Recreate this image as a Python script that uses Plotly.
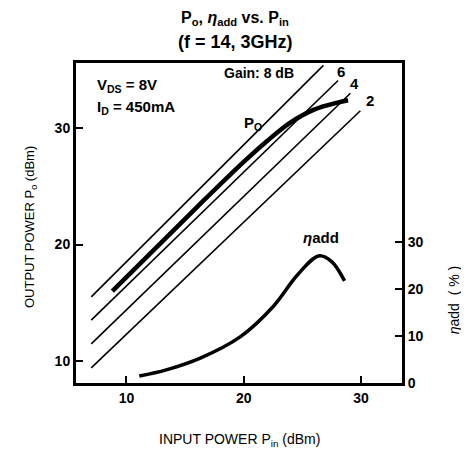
import plotly.graph_objects as go

# Constant-gain reference lines (endpoints)
gain_names = ["8 dB", "6 dB", "4 dB", "2 dB"]
gain_pin = [[7.0, 26.8], [7.0, 28.05], [7.0, 29.1], [7.0, 29.95]]
gain_pout = [[15.5, 35.4], [13.5, 34.1], [11.46, 33.0], [9.4, 31.5]]

# Output power curve
po_pin = [8.8, 12.0, 16.0, 20.0, 22.0, 24.0, 26.0, 28.0, 28.9]
po_pout = [16.0, 19.2, 23.2, 27.1, 28.9, 30.5, 31.6, 32.2, 32.4]

# Power-added efficiency curve
eta_pin = [11.1, 13.4, 16.3, 19.7, 22.5, 24.6, 26.4, 27.5, 28.6]
eta_val = [1.5, 2.8, 5.3, 9.8, 16.2, 23.0, 27.0, 25.8, 21.7]

x_ticks = [10, 20, 30]
y_ticks = [10, 20, 30]
y2_ticks = [0, 10, 20, 30]

FONT = "Liberation Sans, Arial, sans-serif"

fig = go.Figure()
for name, xs, ys in zip(gain_names, gain_pin, gain_pout):
    fig.add_trace(go.Scatter(x=xs, y=ys, mode="lines", name=name,
                             line=dict(color="black", width=1.6), showlegend=False))
fig.add_trace(go.Scatter(x=po_pin, y=po_pout, mode="lines", name="Po",
                         line=dict(color="black", width=4.5, shape="spline"), showlegend=False))
fig.add_trace(go.Scatter(x=eta_pin, y=eta_val, mode="lines", name="eta", yaxis="y2",
                         line=dict(color="black", width=3.5, shape="spline"), showlegend=False))

ann = []
def A(text, x, y, size=13, xref="x", yref="y", xanchor="center", angle=0, bold=True):
    ann.append(dict(text=f"<b>{text}</b>" if bold else text, x=x, y=y, xref=xref, yref=yref,
                    showarrow=False, xanchor=xanchor, yanchor="middle", textangle=angle,
                    font=dict(family=FONT, size=size, color="black")))

A("P<sub>o</sub>, <i>η</i><sub>add</sub> vs. P<sub>in</sub>", 0.488, 1.138, 16, "paper", "paper")
A("(f = 14, 3GHz)", 0.488, 1.066, 18, "paper", "paper")
A("V<sub>DS</sub> = 8V", 7.3, 33.7, 15, xanchor="left")
A("I<sub>D</sub> = 450mA", 7.3, 31.8, 15, xanchor="left")
A("Gain: 8 dB", 21.33, 34.74, 14)
A("6", 28.27, 34.9, 15)
A("4", 29.46, 33.8, 15)
A("2", 30.74, 32.4, 15)
A("P<sub>O</sub>", 20.77, 30.36, 15)
A("<i>η</i>add", 26.56, 20.57, 15)
A("OUTPUT POWER P<sub>o</sub> (dBm)", -0.141, 0.4875, 13, "paper", "paper", angle=-90, bold=False)
A("<i>η</i>add  ( % )", 1.16, 0.259, 14, "paper", "paper", angle=-90, bold=False)
A("INPUT POWER P<sub>in</sub> (dBm)", 0.503, -0.178, 14, "paper", "paper", bold=False)

axis_common = dict(showgrid=False, zeroline=False, showline=True, linecolor="black",
                   linewidth=3, ticks="inside", tickcolor="black", tickwidth=2, ticklen=7,
                   tickfont=dict(family=FONT, size=14, color="black"))

fig.update_layout(
    width=461, height=451,
    margin=dict(l=68, r=67, t=55, b=76),
    paper_bgcolor="white", plot_bgcolor="white",
    xaxis=dict(range=[5.7, 33.5], tickvals=x_ticks, ticktext=[f"<b>{v}</b>" for v in x_ticks],
               mirror=True, **axis_common),
    yaxis=dict(range=[8.1, 35.6], tickvals=y_ticks, ticktext=[f"<b>{v}</b>" for v in y_ticks],
               **axis_common),
    yaxis2=dict(range=[0, 68], tickvals=y2_ticks, ticktext=[f"<b>{v}</b>" for v in y2_ticks],
                overlaying="y", side="right", **axis_common),
    annotations=ann,
)

fig.write_html("out.html")
